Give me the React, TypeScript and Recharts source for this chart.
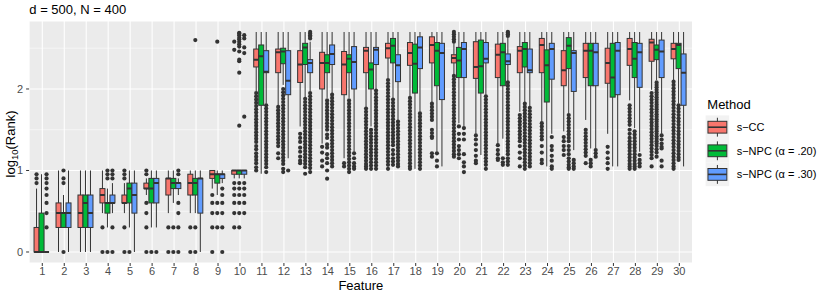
import React from 'react';
import { ComposedChart, Bar, XAxis, YAxis, CartesianGrid } from 'recharts';

const features = ['1','2','3','4','5','6','7','8','9','10','11','12','13','14','15','16','17','18','19','20','21','22','23','24','25','26','27','28','29','30'];
const yTicks = [0, 1, 2];
const minorTicks = [0.5, 1.5, 2.5];

// s-CC
const ccLow = [0, 0, 0, 0.477, 0.477, 0.699, 0.477, 0.477, 0.778, 0.903, 1.97, 1.80, 1.54, 1.33, 1.15, 1.78, 2.13, 1.90, 1.84, 2.17, 1.45, 1.33, 1.72, 1.60, 1.48, 1.62, 1.45, 1.86, 1.99, 2.11];
const ccQ1 = [0, 0.301, 0.301, 0.602, 0.602, 0.778, 0.699, 0.699, 0.903, 0.954, 2.27, 2.20, 2.08, 2.00, 1.93, 2.20, 2.38, 2.29, 2.32, 2.32, 2.13, 2.14, 2.20, 2.20, 2.04, 2.14, 2.07, 2.29, 2.34, 2.37];
const ccMed = [0, 0.477, 0.477, 0.699, 0.602, 0.778, 0.903, 0.845, 0.954, 1, 2.36, 2.45, 2.30, 2.32, 2.30, 2.47, 2.50, 2.44, 2.54, 2.38, 2.27, 2.42, 2.47, 2.54, 2.23, 2.47, 2.32, 2.49, 2.57, 2.49];
const ccQ3 = [0.301, 0.602, 0.699, 0.778, 0.699, 0.845, 0.903, 0.954, 1, 1, 2.49, 2.49, 2.47, 2.45, 2.46, 2.51, 2.56, 2.57, 2.64, 2.42, 2.58, 2.55, 2.52, 2.62, 2.47, 2.56, 2.50, 2.62, 2.61, 2.56];
const ccHigh = [0.778, 1, 1, 1, 0.845, 0.903, 1, 1, 1, 1, 2.699, 2.699, 2.699, 2.699, 2.699, 2.699, 2.699, 2.699, 2.699, 2.56, 2.699, 2.699, 2.699, 2.699, 2.699, 2.699, 2.699, 2.699, 2.699, 2.699];
const ccOut = [
  [0.845, 0.903, 0.954],
  [],
  [],
  [0, 0.301],
  [0, 0.301, 0.903, 0.954, 1],
  [0, 0.301, 0.477, 0.602, 0.954, 1],
  [0, 0.301],
  [0, 0.301],
  [0, 0.301, 0.477, 0.602, 0.699],
  [0.301, 0.477, 0.602, 0.699, 0.778, 0.845, 2.48, 2.58],
  [1.95, 1.91, 1.87, 1.83, 1.79, 1.75, 1.71, 1.67, 1.63, 1.59, 1.55, 1.51, 1.47, 1.43, 1.39, 1.35, 1.30, 1.26, 1.21, 1.17, 1.13, 1.09, 1.04, 1.0],
  [1.78, 1.74, 1.70, 1.66, 1.62, 1.58, 1.54, 1.50, 1.46, 1.42, 1.38, 1.34, 1.30, 1.21, 1.15],
  [1.45, 1.40, 1.35, 1.28, 1.23, 1.17, 1.12, 1.09],
  [1.29, 1.22, 1.12, 1.05],
  [1.09, 1.05],
  [1.76, 1.72, 1.68, 1.64, 1.60, 1.56, 1.52, 1.48, 1.44, 1.40, 1.36, 1.32, 1.28, 1.24, 1.20, 1.16, 1.12, 1.08, 1.05, 1.02],
  [2.11, 2.07, 2.03, 1.99, 1.95, 1.91, 1.87, 1.83, 1.79, 1.75, 1.71, 1.67, 1.63, 1.59, 1.55, 1.51, 1.47, 1.43, 1.39, 1.35, 1.31, 1.27, 1.23, 1.19, 1.15, 1.11, 1.07, 1.02],
  [1.89, 1.85, 1.81, 1.77, 1.73, 1.69, 1.65, 1.61, 1.57, 1.53, 1.49, 1.45, 1.41, 1.37, 1.33, 1.29, 1.25, 1.21, 1.17, 1.13, 1.09, 1.05, 1.02],
  [1.82, 1.78, 1.74, 1.70, 1.66, 1.62, 1.50, 1.46, 1.42, 1.40, 1.21, 1.17],
  [2.58, 2.61, 2.64, 2.67, 2.70, 2.16, 2.12, 2.08, 2.04, 2.00, 1.96, 1.92, 1.88, 1.84, 1.80, 1.76, 1.72, 1.68, 1.64, 1.60, 1.56, 1.52, 1.48, 1.44, 1.40, 1.36, 1.32, 1.28, 1.24, 1.20, 1.17],
  [1.43, 1.38, 1.32, 1.25, 1.18, 1.12, 1.09],
  [1.31, 1.25, 1.20, 1.15, 1.13],
  [1.68, 1.64, 1.60, 1.56, 1.52, 1.48, 1.44, 1.40, 1.36, 1.30, 1.22, 1.15, 1.05],
  [1.58, 1.54, 1.50, 1.46, 1.42, 1.38, 1.30, 1.22, 1.13, 1.09],
  [1.41, 1.36, 1.30, 1.25, 1.19],
  [1.50, 1.46, 1.42, 1.38, 1.34, 1.30, 1.26, 1.22, 1.18, 1.09],
  [1.29, 1.22, 1.15, 1.09, 1.02],
  [1.80, 1.76, 1.72, 1.68, 1.64, 1.60, 1.56, 1.50, 1.45, 1.40, 1.36, 1.32, 1.28, 1.24, 1.20, 1.16, 1.12, 1.08, 1.05, 1.02],
  [1.95, 1.91, 1.87, 1.83, 1.79, 1.75, 1.71, 1.67, 1.63, 1.59, 1.55, 1.51, 1.47, 1.43, 1.39, 1.35, 1.31, 1.27, 1.23, 1.19, 1.15, 1.05],
  [2.09, 2.05, 2.01, 1.97, 1.93, 1.89, 1.85, 1.81, 1.77, 1.73, 1.69, 1.65, 1.61, 1.57, 1.53, 1.49, 1.45, 1.41, 1.37, 1.33, 1.29, 1.25, 1.21, 1.17, 1.13, 1.09, 1.05, 1.02],
];

// s-NPC (alpha = .20)
const npc20Low = [0, 0.301, 0, 0.301, 0.301, 0.301, 0.602, 0.477, 0.699, 0.903, 0.96, 2.05, 1.90, 1.89, 1.89, 1.54, 1.89, 1.02, 1.23, 1.58, 1.19, 1.39, 1.84, 1.05, 1.70, 1.27, 1.05, 1.52, 2.11, 1.82];
const npc20Q1 = [0, 0.301, 0.301, 0.477, 0.602, 0.602, 0.778, 0.699, 0.845, 0.954, 1.80, 2.31, 2.30, 2.20, 2.20, 2.00, 2.32, 1.95, 2.04, 2.14, 1.95, 2.04, 2.27, 1.84, 2.25, 2.04, 1.90, 2.14, 2.36, 2.25];
const npc20Med = [0, 0.477, 0.602, 0.602, 0.778, 0.778, 0.845, 0.845, 0.954, 1, 2.40, 2.46, 2.51, 2.32, 2.37, 2.24, 2.53, 2.31, 2.47, 2.35, 2.28, 2.45, 2.49, 2.29, 2.53, 2.47, 2.14, 2.37, 2.48, 2.54];
const npc20Q3 = [0.477, 0.477, 0.699, 0.602, 0.845, 0.903, 0.903, 0.903, 0.954, 1, 2.54, 2.50, 2.56, 2.42, 2.42, 2.32, 2.62, 2.55, 2.57, 2.51, 2.60, 2.56, 2.57, 2.48, 2.63, 2.56, 2.56, 2.57, 2.54, 2.56];
const npc20High = [0.954, 0.699, 1, 0.778, 1, 1, 1, 1, 1, 1, 2.699, 2.699, 2.699, 2.699, 2.699, 2.699, 2.699, 2.699, 2.699, 2.699, 2.699, 2.699, 2.699, 2.699, 2.699, 2.699, 2.699, 2.699, 2.699, 2.699];
const npc20Out = [
  [],
  [0, 0.845, 0.903, 1],
  [],
  [0, 0.903, 0.954, 1],
  [0],
  [0],
  [0, 0.301],
  [0, 0.301, 2.6],
  [0.301, 0.477, 0.602, 2.58],
  [0.301, 0.477, 0.602, 0.699, 0.778, 0.845, 1.55, 2.20, 2.34, 2.36, 2.46, 2.52, 2.55, 2.58, 2.61, 2.63, 2.66, 2.68, 2.69],
  [],
  [2.00, 1.96, 1.92, 1.88, 1.84, 1.80, 1.76, 1.72, 1.68, 1.64, 1.60, 1.56, 1.52, 1.48, 1.44, 1.40, 1.36, 1.32, 1.28, 1.24, 1.20, 1.16, 1.12, 1.08, 1.02, 0.98],
  [1.88, 1.84, 1.80, 1.76, 1.72, 1.68, 1.64, 1.60, 1.56, 1.52, 1.48, 1.44, 1.40, 1.36, 1.32, 1.28, 1.24, 1.20, 1.16, 1.12, 1.08, 1.04, 0.96],
  [1.86, 1.82, 1.78, 1.74, 1.70, 1.66, 1.62, 1.58, 1.54, 1.50, 1.44, 1.40, 1.32, 1.28, 1.20, 1.15, 1.09, 1.0, 0.90],
  [1.86, 1.82, 1.78, 1.74, 1.70, 1.66, 1.62, 1.58, 1.54, 1.50, 1.46, 1.42, 1.38, 1.34, 1.30, 1.26, 1.22, 1.18, 1.14, 1.10, 1.06, 1.02, 0.98],
  [1.50, 1.46, 1.42, 1.38, 1.34, 1.30, 1.26, 1.22, 1.18, 1.14, 1.10, 1.06, 1.02],
  [1.87, 1.83, 1.79, 1.75, 1.71, 1.67, 1.63, 1.59, 1.55, 1.51, 1.47, 1.43, 1.39, 1.35, 1.31, 1.25, 1.20, 1.15, 1.11, 1.07],
  [],
  [1.21, 1.12, 1.05],
  [1.54, 1.45, 1.38, 1.30, 1.25, 1.20, 1.15],
  [],
  [1.15, 1.10, 1.07],
  [1.82, 1.78, 1.74, 1.70, 1.66, 1.62, 1.58, 1.54, 1.50, 1.46, 1.42, 1.38, 1.34, 1.30, 1.26, 1.22, 1.18, 1.14, 1.10, 1.06, 1.02],
  [],
  [1.68, 1.64, 1.60, 1.56, 1.52, 1.48, 1.44, 1.40, 1.36, 1.30, 1.25, 1.20, 1.15, 1.11, 1.07, 1.04, 1.02],
  [1.13, 1.09, 1.05],
  [],
  [1.48, 1.44, 1.40, 1.36, 1.32, 1.28, 1.24, 1.20, 1.16, 1.12, 1.08, 1.05, 1.02],
  [2.08, 2.05, 2.02, 1.99, 1.96, 1.93, 1.90, 1.87, 1.84, 1.81, 1.78, 1.75, 1.72, 1.69, 1.66, 1.63, 1.60, 1.57, 1.54, 1.51, 1.48, 1.45, 1.42, 1.39, 1.36, 1.33, 1.30, 1.26, 1.22, 1.17],
  [1.80, 1.76, 1.72, 1.68, 1.64, 1.60, 1.56, 1.52, 1.48, 1.44, 1.40, 1.36, 1.32, 1.28, 1.24, 1.20, 1.16, 1.13],
];

// s-NPC (alpha = .30)
const npc30Low = [0, 0, 0, 0.477, 0, 0.301, 0.699, 0, 0.845, 0.903, 1.82, 1.15, 1.97, 1.95, 1.23, 2.00, 1.62, 1.72, 1.05, 1.54, 1.93, 2.10, 1.78, 1.45, 1.25, 1.27, 1.05, 1.23, 1.45, 1.05];
const npc30Q1 = [0, 0.301, 0.301, 0.602, 0.477, 0.602, 0.778, 0.477, 0.903, 0.954, 2.20, 1.93, 2.20, 2.30, 2.00, 2.30, 2.09, 2.25, 1.87, 2.14, 2.32, 2.30, 2.20, 2.12, 1.97, 2.04, 1.93, 2.02, 2.14, 1.80];
const npc30Med = [0, 0.477, 0.477, 0.602, 0.699, 0.845, 0.845, 0.903, 0.954, 1, 2.21, 2.10, 2.32, 2.43, 2.33, 2.48, 2.29, 2.51, 2.44, 2.49, 2.37, 2.34, 2.23, 2.49, 2.44, 2.45, 2.47, 2.45, 2.46, 2.20];
const npc30Q3 = [0, 0.602, 0.699, 0.699, 0.845, 0.903, 0.845, 0.903, 0.954, 1, 2.47, 2.47, 2.36, 2.54, 2.52, 2.51, 2.42, 2.64, 2.56, 2.57, 2.57, 2.43, 2.49, 2.56, 2.47, 2.56, 2.57, 2.56, 2.60, 2.43];
const npc30High = [0, 1, 1, 0.845, 1, 1, 0.903, 1, 1, 1, 2.699, 2.699, 2.58, 2.699, 2.699, 2.699, 2.699, 2.699, 2.699, 2.699, 2.699, 2.63, 2.699, 2.699, 2.699, 2.699, 2.699, 2.699, 2.699, 2.699];
const npc30Out = [
  [0.301, 0.477, 0.602, 0.699, 0.778, 0.845, 0.903, 0.954],
  [],
  [],
  [0, 0.301, 0.903, 0.954, 1],
  [],
  [0],
  [0, 0.301, 0.477, 0.602, 0.954, 1],
  [],
  [0, 0.301, 0.477, 0.602, 0.699, 0.778],
  [0.477, 0.602, 0.699, 0.778, 0.845, 1.66, 2.44, 2.51, 2.62, 2.66],
  [1.80, 1.76, 1.72, 1.68, 1.64, 1.60, 1.56, 1.52, 1.48, 1.44, 1.40, 1.36, 1.32, 1.28, 1.24, 1.20, 1.16, 1.12, 1.08, 1.04, 0.98],
  [1.0],
  [2.62, 2.64, 2.66, 2.68, 2.70, 1.95, 1.91, 1.87, 1.83, 1.79, 1.75, 1.71, 1.67, 1.63, 1.59, 1.55, 1.51, 1.47, 1.43, 1.39, 1.35, 1.31, 1.27, 1.23, 1.19, 1.15, 1.11, 1.07, 1.03, 0.98],
  [1.93, 1.89, 1.85, 1.81, 1.77, 1.73, 1.69, 1.65, 1.61, 1.57, 1.53, 1.49, 1.45, 1.41, 1.37, 1.33, 1.29, 1.25, 1.21, 1.17, 1.13, 1.09, 1.05],
  [1.21, 1.15, 1.09, 1.05, 1.02],
  [1.98, 1.94, 1.90, 1.86, 1.82, 1.78, 1.74, 1.70, 1.66, 1.62, 1.58, 1.54, 1.50, 1.46, 1.42, 1.38, 1.34, 1.30, 1.26, 1.22, 1.18, 1.14, 1.10, 1.06, 1.02],
  [1.60, 1.56, 1.52, 1.48, 1.44, 1.40, 1.36, 1.32, 1.28, 1.24, 1.20, 1.16, 1.12, 1.08, 1.05],
  [1.70, 1.66, 1.62, 1.58, 1.54, 1.50, 1.46, 1.42, 1.38, 1.34, 1.30, 1.26, 1.22, 1.18, 1.14, 1.10, 1.06, 1.02],
  [],
  [1.52, 1.45, 1.38, 1.20, 1.10, 1.05, 0.98],
  [1.91, 1.87, 1.83, 1.79, 1.75, 1.71, 1.67, 1.63, 1.59, 1.55, 1.51, 1.47, 1.43, 1.39, 1.35, 1.31, 1.27, 1.23, 1.19, 1.15, 1.11, 1.07, 1.02],
  [2.65, 2.67, 2.69, 2.70, 2.08, 2.04, 2.00, 1.96, 1.92, 1.88, 1.84, 1.80, 1.76, 1.72, 1.68, 1.64, 1.60, 1.56, 1.52, 1.48, 1.44, 1.40, 1.36, 1.32, 1.28, 1.24, 1.20, 1.15, 1.11, 1.07],
  [1.77, 1.73, 1.69, 1.65, 1.61, 1.57, 1.53, 1.49, 1.45, 1.41, 1.37, 1.33, 1.29, 1.25, 1.21, 1.17, 1.13, 1.09, 1.05],
  [1.41, 1.30, 1.25, 1.18, 1.12, 1.05, 1.02],
  [1.13, 1.09, 1.05, 1.02],
  [1.25, 1.21, 1.17],
  [],
  [1.19, 1.13, 1.09, 1.05],
  [1.43, 1.38, 1.33, 1.29, 1.27, 1.12, 1.05],
  [],
];

const methods = [
  { key: 'cc', name: 's\u2212CC', fill: '#F8766D', low: ccLow, q1: ccQ1, med: ccMed, q3: ccQ3, high: ccHigh, out: ccOut },
  { key: 'npc20', name: 's\u2212NPC (\u03B1 = .20)', fill: '#00BA38', low: npc20Low, q1: npc20Q1, med: npc20Med, q3: npc20Q3, high: npc20High, out: npc20Out },
  { key: 'npc30', name: 's\u2212NPC (\u03B1 = .30)', fill: '#619CFF', low: npc30Low, q1: npc30Q1, med: npc30Med, q3: npc30Q3, high: npc30High, out: npc30Out },
];

const data = features.map((f, i) => {
  const row: any = { feature: f };
  methods.forEach((m) => {
    const st = { low: m.low[i], q1: m.q1[i], med: m.med[i], q3: m.q3[i], high: m.high[i], out: m.out[i] };
    const top = Math.max(st.high, ...st.out);
    row[m.key] = [0, top];
    row[m.key + 'Stats'] = st;
  });
  return row;
});

const INK = '#333333';
const FONT = '"Liberation Sans", Arial, Helvetica, sans-serif';

function makeBoxShape(key: string, fill: string) {
  return (props: any) => {
    const { x, y, width, height, payload } = props;
    const st = payload[key + 'Stats'];
    const top = payload[key][1];
    const yTop = Math.min(y, y + height);
    const yBot = Math.max(y, y + height);
    const k = (yBot - yTop) / top;
    const py = (v: number) => yBot - v * k;
    const cx = x + width / 2;
    return (
      <g>
        {st.out.map((v: number, j: number) => (
          <circle key={j} cx={cx} cy={py(v)} r={2.1} fill={INK} />
        ))}
        <line x1={cx} x2={cx} y1={py(st.high)} y2={py(st.q3)} stroke={INK} strokeWidth={1} />
        <line x1={cx} x2={cx} y1={py(st.q1)} y2={py(st.low)} stroke={INK} strokeWidth={1} />
        <rect x={x} y={py(st.q3)} width={width} height={Math.max(0, py(st.q1) - py(st.q3))} fill={fill} stroke={INK} strokeWidth={1} />
        <line x1={x} x2={x + width} y1={py(st.med)} y2={py(st.med)} stroke={INK} strokeWidth={2} />
      </g>
    );
  };
}

const keyTop = 115.4;
const keyH = 23.6;
const keyX = 705.6;
const keyW = 23.6;

export default function App() {
  return (
    <div style={{ position: 'absolute', left: 0, top: 0, width: 830, height: 297, background: '#fff' }}>
      <ComposedChart
        width={830}
        height={297}
        data={data}
        margin={{ top: 21, right: 137.5, bottom: 0, left: 0 }}
        barCategoryGap="12.5%"
        barGap={0}
        style={{ fontFamily: FONT }}
      >
        <CartesianGrid fill="#EBEBEB" fillOpacity={1} stroke="#FFFFFF" strokeWidth={1.07} />
        <CartesianGrid horizontalValues={minorTicks} vertical={false} stroke="#FFFFFF" strokeWidth={0.53} />
        <XAxis
          dataKey="feature"
          type="category"
          interval={0}
          height={34}
          tickSize={3}
          tickMargin={1.5}
          axisLine={false}
          tickLine={{ stroke: INK }}
          tick={{ fill: '#4D4D4D', fontSize: 11 }}
          padding={{ left: 2.2, right: 2.2 }}
        />
        <YAxis
          type="number"
          domain={[-0.135, 2.834]}
          allowDataOverflow
          ticks={yTicks}
          width={29.1}
          tickSize={3}
          tickMargin={3}
          axisLine={false}
          tickLine={{ stroke: INK }}
          tick={{ fill: '#4D4D4D', fontSize: 11 }}
        />
        {methods.map((m) => (
          <Bar key={m.key} dataKey={m.key} name={m.name} fill={m.fill} isAnimationActive={false} shape={makeBoxShape(m.key, m.fill)} />
        ))}
      </ComposedChart>
      <svg width={830} height={297} style={{ position: 'absolute', left: 0, top: 0, pointerEvents: 'none', fontFamily: FONT }}>
        <text x={29.3} y={14} fontSize={13} fill="#000">d = 500, N = 400</text>
        <text x={360.8} y={289.5} fontSize={13} fill="#000" textAnchor="middle">Feature</text>
        <text transform="translate(14.5,144) rotate(-90)" fontSize={13} fill="#000" textAnchor="middle">
          log<tspan fontSize={9.5} dy={3}>10</tspan><tspan dy={-3}>(Rank)</tspan>
        </text>
        <text x={707.3} y={108.7} fontSize={13} fill="#000">Method</text>
        {methods.map((m, i) => {
          const t = keyTop + i * keyH;
          const cx = keyX + keyW / 2;
          return (
            <g key={m.key}>
              <rect x={keyX} y={t} width={keyW} height={keyH} fill="#F2F2F2" />
              <line x1={cx} x2={cx} y1={t + keyH * 0.1} y2={t + keyH * 0.9} stroke={INK} strokeWidth={1} />
              <rect x={keyX + keyW * 0.1} y={t + keyH * 0.25} width={keyW * 0.8} height={keyH * 0.5} fill={m.fill} stroke={INK} strokeWidth={1} />
              <line x1={keyX + keyW * 0.1} x2={keyX + keyW * 0.9} y1={t + keyH * 0.5} y2={t + keyH * 0.5} stroke={INK} strokeWidth={1.6} />
              <text x={736.7} y={t + keyH * 0.5 + 4} fontSize={11} fill="#000">{m.name}</text>
            </g>
          );
        })}
      </svg>
    </div>
  );
}
